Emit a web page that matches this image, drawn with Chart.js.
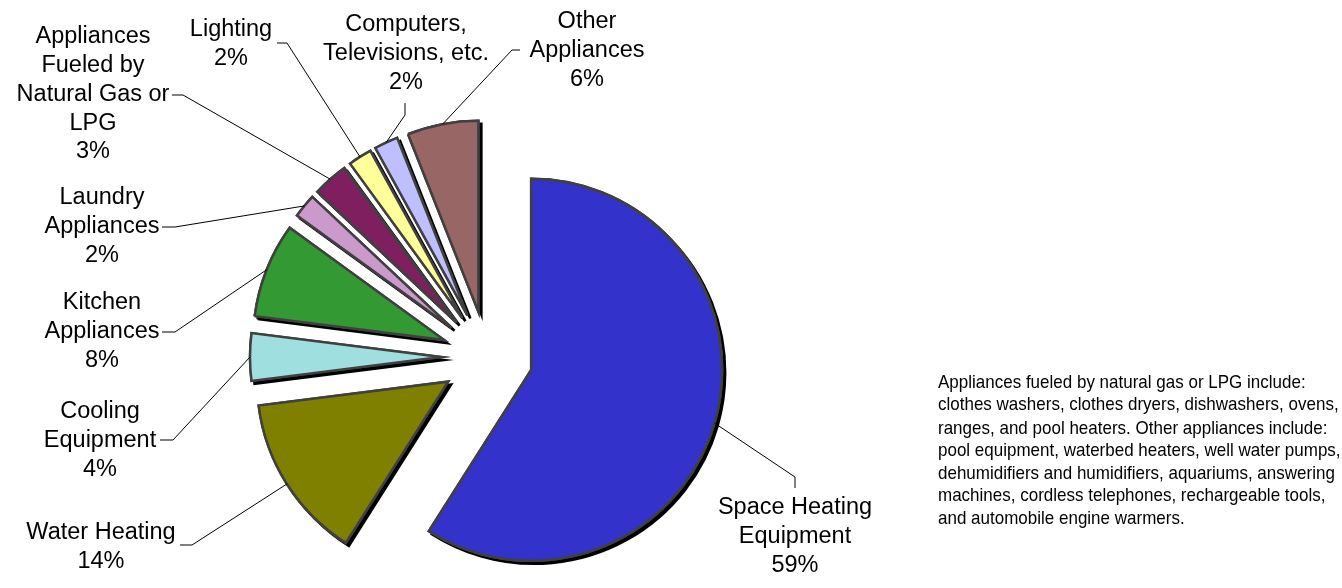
<!DOCTYPE html>
<html>
<head>
<meta charset="utf-8">
<script src="https://cdn.jsdelivr.net/npm/chart.js@4.4.1/dist/chart.umd.min.js"></script>
<style>
  html, body { margin: 0; padding: 0; background: #fff; }
  #wrap { position: relative; width: 1342px; height: 588px; overflow: hidden; }
  #note {
    position: absolute; left: 938px; top: 371px; width: 420px;
    font-family: 'Liberation Sans', Arial, sans-serif; font-size: 17px;
    line-height: 20.3px; color: #000; white-space: nowrap;
    transform: scale(1, 1.12); transform-origin: 0 0;
  }
</style>
</head>
<body>
<div id="wrap">
  <canvas id="pie" width="1342" height="588"></canvas>
  <div id="note">
    Appliances fueled by natural gas or LPG include:<br>
    clothes washers, clothes dryers, dishwashers, ovens,<br>
    ranges, and pool heaters. Other appliances include:<br>
    pool equipment, waterbed heaters, well water pumps,<br>
    dehumidifiers and humidifiers, aquariums, answering<br>
    machines, cordless telephones, rechargeable tools,<br>
    and automobile engine warmers.
  </div>
</div>
<script>
/* ─── Data ────────────────────────────────────────────── */
const categories = [
  ['Space Heating', 'Equipment'],
  ['Water Heating'],
  ['Cooling', 'Equipment'],
  ['Kitchen', 'Appliances'],
  ['Laundry', 'Appliances'],
  ['Appliances', 'Fueled by', 'Natural Gas or', 'LPG'],
  ['Lighting'],
  ['Computers,', 'Televisions, etc.'],
  ['Other', 'Appliances']
];
const shares = [59, 14, 4, 8, 2, 3, 2, 2, 6];

/* ─── Styling ─────────────────────────────────────────── */
const COLORS = ['#3333CC', '#808000', '#9FDFDF', '#339933', '#CC99CC', '#7F1F5F', '#FFFF99', '#BFBFFF', '#996666'];
const EXPLODE = 46;
const FONT = "23.5px 'Liberation Sans', Arial, sans-serif";
const LINE_H = 28.7;

// label centre x, first line y, leader elbow, leader end
const labelX  = [795, 101, 100, 102, 102, 93, 231, 406, 587];
const labelY  = [508, 533, 412, 303, 198, 37, 30, 25, 22];
const elbows  = [[795, 477], [192, 545], [173, 440], [175, 332], [175, 227], [183, 95], [287, 43], [405, 115], [512, 50]];
const ends    = [[795, 488], [180, 545], [160, 440], [162, 332], [162, 227], [172, 95], [277, 43], [405, 103], [520, 50]];

/* ─── Exploded slices with drop shadow ────────────────── */
const explode = {
  id: 'explode',
  beforeDatasetDraw(chart, args) {
    const ctx = chart.ctx;
    const arcs = args.meta.data;
    [true, false].forEach(shadow => {
      arcs.forEach(arc => {
        const mid = (arc.startAngle + arc.endAngle) / 2;
        ctx.save();
        ctx.translate(Math.cos(mid) * EXPLODE, Math.sin(mid) * EXPLODE);
        if (shadow) {
          ctx.shadowColor = '#000';
          ctx.shadowOffsetX = 3;
          ctx.shadowOffsetY = 3;
          ctx.shadowBlur = 0;
        }
        arc.draw(ctx);
        ctx.restore();
      });
    });
    return false;
  }
};

/* ─── Labels + leader lines ───────────────────────────── */
const labels = {
  id: 'labels',
  afterDraw(chart) {
    const ctx = chart.ctx;
    const arcs = chart.getDatasetMeta(0).data;
    ctx.save();
    ctx.strokeStyle = '#000';
    ctx.lineWidth = 1;
    arcs.forEach((arc, i) => {
      const mid = (arc.startAngle + arc.endAngle) / 2;
      const r = arc.outerRadius + EXPLODE;
      ctx.beginPath();
      ctx.moveTo(arc.x + Math.cos(mid) * r, arc.y + Math.sin(mid) * r);
      ctx.lineTo(elbows[i][0], elbows[i][1]);
      ctx.lineTo(ends[i][0], ends[i][1]);
      ctx.stroke();
    });
    ctx.fillStyle = '#000';
    ctx.font = FONT;
    ctx.textAlign = 'center';
    ctx.textBaseline = 'middle';
    categories.forEach((lines, i) => {
      const all = lines.concat([shares[i] + '%']);
      all.forEach((t, j) => ctx.fillText(t, labelX[i], labelY[i] + j * LINE_H));
    });
    ctx.restore();
  }
};

new Chart(document.getElementById('pie'), {
  type: 'pie',
  data: {
    labels: categories.map(c => c.join(' ')),
    datasets: [{
      data: shares,
      backgroundColor: COLORS,
      borderColor: '#404040',
      borderWidth: 2.5,
      borderJoinStyle: 'miter',
      radius: 191
    }]
  },
  options: {
    responsive: false,
    animation: false,
    layout: { padding: { left: 267, right: 635, top: 137, bottom: 11 } },
    plugins: { legend: { display: false }, tooltip: { enabled: false } }
  },
  plugins: [explode, labels]
});
</script>
</body>
</html>
